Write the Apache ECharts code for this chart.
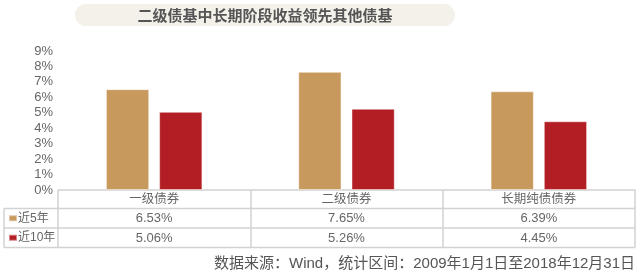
<!DOCTYPE html>
<html><head><meta charset="utf-8">
<script src="https://cdn.jsdelivr.net/npm/echarts@6/dist/echarts.min.js"></script>
<style>html,body{margin:0;padding:0;background:#fff}#c{width:640px;height:277px}</style>
</head><body><div id="c"></div>
<script>
var titleText = '二级债基中长期阶段收益领先其他债基';
var sourceText = '数据来源：Wind，统计区间：2009年1月1日至2018年12月31日';
var categories = ['一级债券', '二级债券', '长期纯债债券'];
var seriesNames = ['近5年', '近10年'];
var values5 = [6.53, 7.65, 6.39];
var values10 = [5.06, 5.26, 4.45];
var yTicks = [0, 1, 2, 3, 4, 5, 6, 7, 8, 9];
var colors = ['#C8995C', '#B31E24'];

var FONT = "'Liberation Sans', Arial, 'Noto Sans CJK SC', sans-serif";
var GL = 58, GR = 635, AXY = 190, TOP = 51;
var rowLines = [208.5, 228, 247.5];
var rowCenters = [218.5, 238];
var tableLeft = 4;
var lineColor = '#d2d2d2';

var chart = echarts.init(document.getElementById('c'), null, {renderer: 'canvas'});
var option = {
  animation: false,
  textStyle: {fontFamily: FONT},
  grid: {left: GL, right: 640 - GR, top: TOP, bottom: 277 - AXY, containLabel: false},
  legend: {
    orient: 'vertical', left: 8, top: 211, itemWidth: 8, itemHeight: 6, itemGap: 5,
    padding: 0, icon: 'rect', selectedMode: false,
    textStyle: {fontSize: 12, color: '#666', fontFamily: FONT, lineHeight: 14.5, padding: [0, 0, 0, -4]},
    data: seriesNames
  },
  xAxis: {
    type: 'category', data: categories,
    axisLine: {lineStyle: {color: lineColor, width: 1.5}},
    axisTick: {show: true, length: rowLines[2] - AXY, lineStyle: {color: lineColor, width: 1.5}},
    axisLabel: {fontSize: 12.5, color: '#666', margin: 3, fontFamily: FONT}
  },
  yAxis: {
    type: 'value', min: yTicks[0], max: yTicks[yTicks.length - 1], interval: 1,
    splitLine: {show: false}, axisLine: {show: false}, axisTick: {show: false},
    axisLabel: {formatter: '{value}%', fontSize: 13, color: '#666', margin: 5, fontFamily: FONT}
  },
  series: [
    {name: seriesNames[0], type: 'bar', data: values5, barWidth: '22.5%', barGap: '23%',
     itemStyle: {color: colors[0], borderColor: 'rgba(255,255,255,0.45)', borderWidth: 1}},
    {name: seriesNames[1], type: 'bar', data: values10, barWidth: '22.5%',
     itemStyle: {color: colors[1], borderColor: 'rgba(255,255,255,0.45)', borderWidth: 1}}
  ]
};
chart.setOption(option);

var g = [];
g.push({type: 'rect', shape: {x: 75, y: 4, width: 380, height: 22, r: 11}, style: {fill: '#F4F0EA'}, silent: true});
g.push({type: 'text', x: 265, y: 15.5, style: {text: titleText, fontSize: 15, fontWeight: 'bold', fill: '#555', align: 'center', verticalAlign: 'middle', fontFamily: "'Noto Sans CJK SC', sans-serif"}});
rowLines.forEach(function (y) {
  g.push({type: 'line', shape: {x1: tableLeft, y1: y, x2: GR, y2: y}, style: {stroke: lineColor, lineWidth: 1.5}});
});
g.push({type: 'line', shape: {x1: tableLeft, y1: rowLines[0], x2: tableLeft, y2: rowLines[2]}, style: {stroke: lineColor, lineWidth: 1.5}});
var rows = [values5, values10];
rows.forEach(function (vals, r) {
  vals.forEach(function (v, i) {
    var x = chart.convertToPixel({xAxisIndex: 0}, categories[i]);
    g.push({type: 'text', x: x, y: rowCenters[r], style: {text: v.toFixed(2) + '%', fontSize: 13, fill: '#666', align: 'center', verticalAlign: 'middle', fontFamily: FONT}});
  });
});
g.push({type: 'text', x: GR, y: 264, style: {text: sourceText, fontSize: 15, fill: '#555', align: 'right', verticalAlign: 'middle', fontFamily: FONT}});
chart.setOption({graphic: g});
</script></body></html>
